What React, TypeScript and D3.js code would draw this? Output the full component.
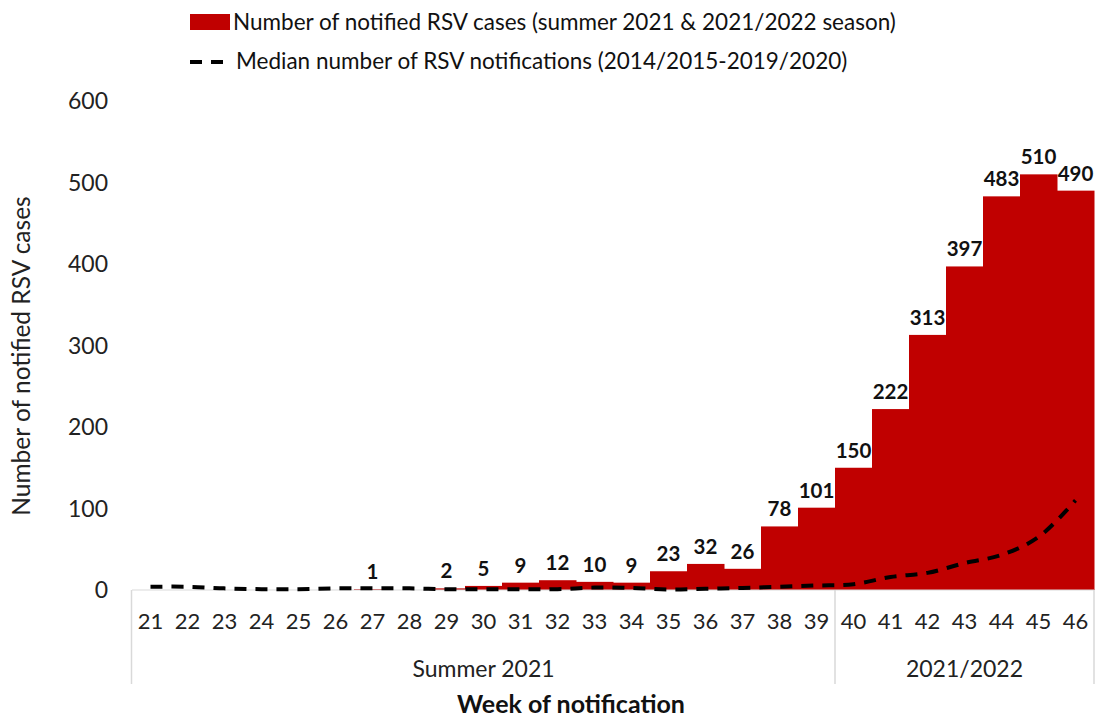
import React from "react";
import * as d3 from "d3";

const weeks = ["21","22","23","24","25","26","27","28","29","30","31","32","33","34","35","36","37","38","39","40","41","42","43","44","45","46"];
const cases = [0,0,0,0,0,0,1,0,2,5,9,12,10,9,23,32,26,78,101,150,222,313,397,483,510,490];
const median = [4,4,2,1,1,2,2,2,1,1,1,1,3,2.5,0.5,1.5,2.5,4,5.5,7,16,21,33,43,65,110];
const yTicks = [0,100,200,300,400,500,600];
const groups = [
  { label: "Summer 2021", from: "21", to: "39" },
  { label: "2021/2022", from: "40", to: "46" },
];
const legendBar = "Number of notified RSV cases (summer 2021 & 2021/2022 season)";
const legendLine = "Median number of RSV notifications (2014/2015-2019/2020)";
const yTitle = "Number of notified RSV cases";
const xTitle = "Week of notification";

const W = 1096, H = 717;
const left = 132, right = 1094, top = 101, bottom = 590;
const FONT = "Lato, 'Open Sans', sans-serif";
const RED = "#C00000";

export default function App() {
  const x = d3.scaleBand().domain(weeks).range([left, right]).padding(0);
  const y = d3.scaleLinear().domain([0, 600]).range([bottom, top]);
  const line = d3
    .line<number>()
    .x((_, i) => (x(weeks[i]) as number) + x.bandwidth() / 2)
    .y((d) => y(d))
    .curve(d3.curveCatmullRom.alpha(0.5));

  return (
    <svg width={W} height={H} style={{ position: "absolute", left: 0, top: 0, background: "#fff" }} fontFamily={FONT}>
      {/* legend */}
      <rect x={190} y={14} width={40} height={16} fill={RED} />
      <text x={233} y={22} dy="0.35em" fontSize={22.5} fill="#111">{legendBar}</text>
      <line x1={190} x2={230} y1={62} y2={62} stroke="#000" strokeWidth={4} strokeDasharray="12,9" />
      <text x={236} y={61} dy="0.35em" fontSize={22.5} fill="#111">{legendLine}</text>

      {/* y ticks */}
      {yTicks.map((t) => (
        <text key={t} x={108} y={y(t)} dy="0.35em" textAnchor="end" fontSize={23} fill="#222">{t}</text>
      ))}
      <text transform={`translate(30,356) rotate(-90)`} textAnchor="middle" fontSize={24.5} fill="#222">{yTitle}</text>

      {/* bars */}
      {cases.map((v, i) => (
        <rect key={i} x={x(weeks[i])} y={y(v)} width={x.bandwidth() + 0.5} height={bottom - y(v)} fill={RED} />
      ))}

      {/* baseline & category box */}
      <line x1={left} x2={right} y1={bottom} y2={bottom} stroke="#d9d9d9" strokeWidth={1} />
      <line x1={left - 0.5} x2={left - 0.5} y1={bottom} y2={684} stroke="#d9d9d9" strokeWidth={1.5} />
      <line x1={right} x2={right} y1={bottom} y2={684} stroke="#d9d9d9" strokeWidth={1.5} />
      <line x1={x("40")} x2={x("40")} y1={bottom} y2={684} stroke="#d9d9d9" strokeWidth={1.5} />

      {/* median line */}
      <path d={line(median) || ""} fill="none" stroke="#000" strokeWidth={4} strokeDasharray="12,9" />

      {/* value labels */}
      {cases.map((v, i) =>
        v > 0 ? (
          <text key={i} x={(x(weeks[i]) as number) + x.bandwidth() / 2} y={y(v) - 10} textAnchor="middle" fontSize={20.5} fontWeight="bold" fill="#111">{v}</text>
        ) : null
      )}

      {/* x ticks */}
      {weeks.map((w) => (
        <text key={w} x={(x(w) as number) + x.bandwidth() / 2} y={621} dy="0.35em" textAnchor="middle" fontSize={22} fill="#222">{w}</text>
      ))}
      {groups.map((g) => {
        const a = x(g.from) as number;
        const b = (x(g.to) as number) + x.bandwidth();
        return (
          <text key={g.label} x={(a + b) / 2} y={669} dy="0.35em" textAnchor="middle" fontSize={23} fill="#222">{g.label}</text>
        );
      })}
      <text x={571} y={704} dy="0.35em" textAnchor="middle" fontSize={25} fontWeight="bold" fill="#111">{xTitle}</text>
    </svg>
  );
}
